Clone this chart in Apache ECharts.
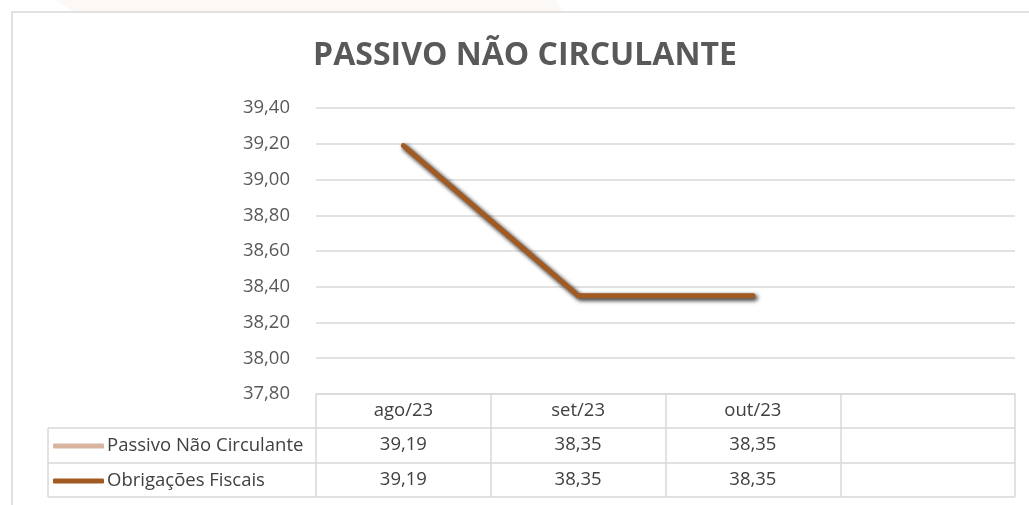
<!DOCTYPE html>
<html>
<head>
<meta charset="utf-8">
<script src="https://cdn.jsdelivr.net/npm/echarts@6/dist/echarts.min.js"></script>
<style>html,body{margin:0;padding:0;background:#fff}#c{width:1029px;height:505px}</style>
</head>
<body>
<div id="c"></div>
<script>
const title = 'PASSIVO NÃO CIRCULANTE';
const categories = ['ago/23', 'set/23', 'out/23', ''];
const seriesNames = ['Passivo Não Circulante', 'Obrigações Fiscais'];
const passivoNaoCirculante = [39.19, 38.35, 38.35, null];
const obrigacoesFiscais = [39.19, 38.35, 38.35, null];
const yMin = 37.8, yMax = 39.4, yStep = 0.2;

const fmt = v => (v == null ? '' : v.toFixed(2).replace('.', ','));
const FONT = '"Open Sans", "Noto Sans", sans-serif';
const GRID = '#d9d9d9';
const TXT = 18.5;

const chart = echarts.init(document.getElementById('c'), null, {renderer: 'canvas'});
chart.setOption({
  animation: false,
  backgroundColor: '#fff',
  title: {
    text: title, left: 525, top: 40, textAlign: 'center', padding: 0,
    textStyle: {fontFamily: FONT, fontWeight: 'bold', fontSize: 32, color: '#595959'}
  },
  legend: {
    orient: 'vertical', left: 53, top: 436, itemGap: 15, padding: 0,
    itemWidth: 51, itemHeight: 5, icon: 'roundRect', selectedMode: false,
    textStyle: {fontFamily: FONT, fontSize: TXT, color: '#404040', lineHeight: 20, padding: [0, 0, 0, -2]}
  },
  grid: {left: 316, right: 14, top: 108, bottom: 111, containLabel: false},
  xAxis: [
    {
      type: 'category', data: categories, position: 'bottom', boundaryGap: true,
      axisLine: {show: true, lineStyle: {color: GRID, width: 1.5}},
      axisTick: {show: true, length: 103, inside: false, lineStyle: {color: GRID, width: 1.5}},
      axisLabel: {color: '#404040', fontFamily: FONT, fontSize: TXT, margin: 7}
    },
    {
      type: 'category', data: passivoNaoCirculante.map(fmt), position: 'bottom', offset: 34,
      axisLine: {show: false}, axisTick: {show: false},
      axisLabel: {color: '#404040', fontFamily: FONT, fontSize: TXT, margin: 7}
    },
    {
      type: 'category', data: obrigacoesFiscais.map(fmt), position: 'bottom', offset: 69,
      axisLine: {show: false}, axisTick: {show: false},
      axisLabel: {color: '#404040', fontFamily: FONT, fontSize: TXT, margin: 7}
    }
  ],
  yAxis: {
    type: 'value', min: yMin, max: yMax, interval: yStep,
    axisLine: {show: false}, axisTick: {show: false},
    splitLine: {lineStyle: {color: GRID, width: 1.5}},
    axisLabel: {color: '#595959', fontFamily: FONT, fontSize: 18.5, margin: 26, formatter: v => fmt(v)}
  },
  series: [
    {
      name: seriesNames[0], type: 'line', data: passivoNaoCirculante, xAxisIndex: 0,
      showSymbol: false, symbol: 'none',
      itemStyle: {color: '#D9B4A0'},
      lineStyle: {color: '#D9B4A0', width: 5, cap: 'round', join: 'round',
        shadowColor: 'rgba(0,0,0,0.55)', shadowBlur: 4, shadowOffsetX: 2, shadowOffsetY: 2}
    },
    {
      name: seriesNames[1], type: 'line', data: obrigacoesFiscais, xAxisIndex: 0,
      showSymbol: false, symbol: 'none',
      itemStyle: {color: '#A05A22'},
      lineStyle: {color: '#A05A22', width: 5, cap: 'round', join: 'round',
        shadowColor: 'rgba(0,0,0,0.55)', shadowBlur: 4, shadowOffsetX: 2, shadowOffsetY: 2}
    }
  ],
  graphic: [
    {type: 'polygon', silent: true, z: -10, shape: {points: [[55, 0], [555, 0], [565, 12], [75, 12]]}, style: {fill: '#fbf8f5'}},
    {type: 'rect', silent: true, z: -5, shape: {x: 12, y: 12, width: 1040, height: 520}, style: {fill: 'none', stroke: GRID, lineWidth: 1.5}},
    {type: 'line', silent: true, shape: {x1: 48, y1: 428, x2: 1015, y2: 428}, style: {stroke: GRID, lineWidth: 1.5}},
    {type: 'line', silent: true, shape: {x1: 48, y1: 463, x2: 1015, y2: 463}, style: {stroke: GRID, lineWidth: 1.5}},
    {type: 'line', silent: true, shape: {x1: 48, y1: 497, x2: 1015, y2: 497}, style: {stroke: GRID, lineWidth: 1.5}},
    {type: 'line', silent: true, shape: {x1: 48, y1: 428, x2: 48, y2: 497}, style: {stroke: GRID, lineWidth: 1.5}}
  ]
});
</script>
</body>
</html>
